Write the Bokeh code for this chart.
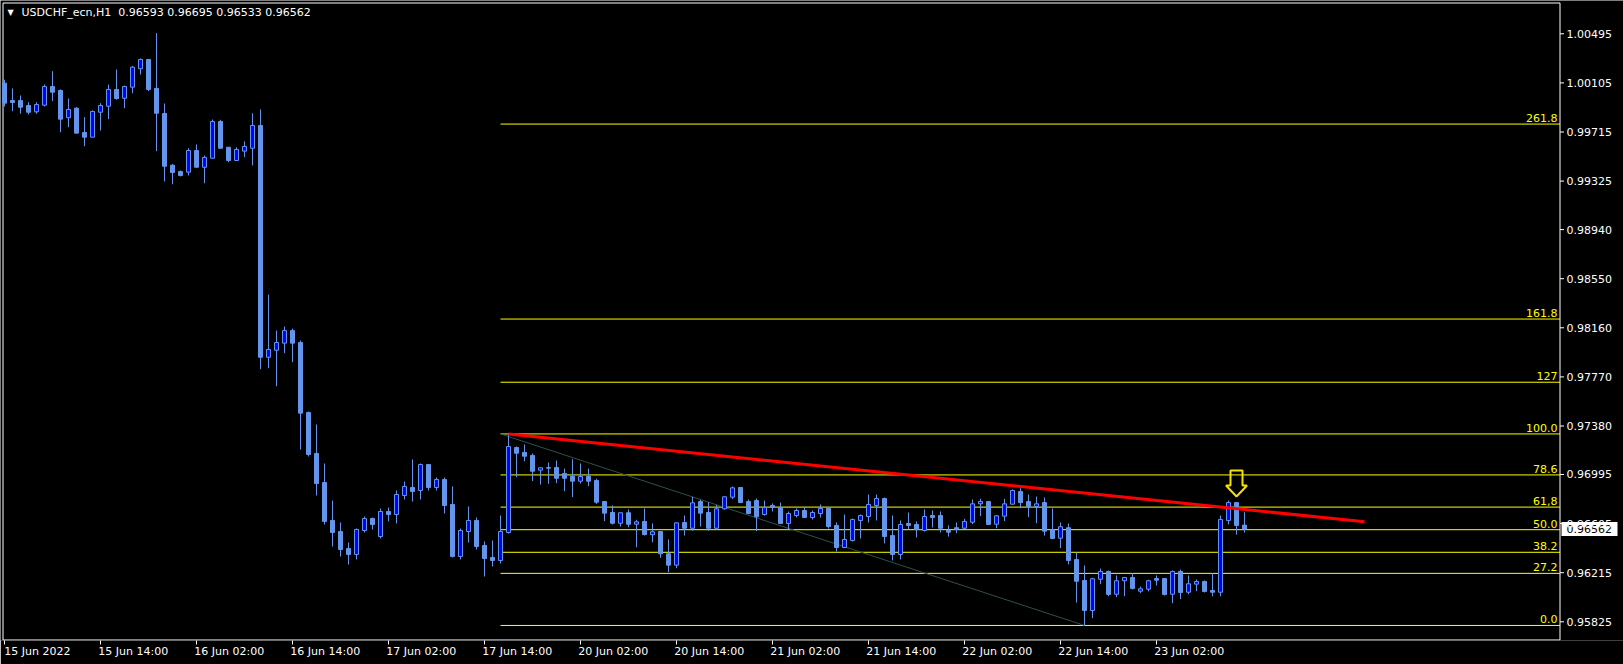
from bokeh.plotting import figure
from bokeh.models import Range1d, FixedTicker, Label, LabelSet, ColumnDataSource
from bokeh.core.properties import value
from bokeh.embed import file_html
from bokeh.resources import INLINE

symbol = "USDCHF_ecn,H1"

time_tick_bars = [0, 12, 24, 36, 48, 60, 72, 84, 96, 108, 120, 132, 144]
time_tick_labels = ["15 Jun 2022", "15 Jun 14:00", "16 Jun 02:00", "16 Jun 14:00",
                    "17 Jun 02:00", "17 Jun 14:00", "20 Jun 02:00", "20 Jun 14:00",
                    "21 Jun 02:00", "21 Jun 14:00", "22 Jun 02:00", "22 Jun 14:00",
                    "23 Jun 02:00"]

price_ticks = [1.00495, 1.00105, 0.99715, 0.99325, 0.98940, 0.98550, 0.98160,
               0.97770, 0.97380, 0.96995, 0.96605, 0.96215, 0.95825]

ohlc_points = [
    (100103, 100130, 99918, 99944), (99965, 100061, 99880, 99949), (99965, 100005, 99860, 99912),
    (99925, 99952, 99854, 99872), (99875, 99952, 99860, 99933), (99928, 100092, 99918, 100076),
    (100076, 100198, 99960, 100031), (100045, 100053, 99713, 99817), (99828, 99981, 99753, 99894),
    (99904, 99912, 99706, 99706), (99711, 99833, 99602, 99674), (99674, 99886, 99674, 99878),
    (99872, 99944, 99727, 99925), (99920, 100092, 99817, 100053), (100053, 100211, 99971, 99981),
    (99983, 100084, 99904, 100076), (100071, 100238, 100023, 100230), (100217, 100299, 100172, 100291),
    (100291, 100295, 100039, 100053), (100061, 100500, 99563, 99864), (99862, 99941, 99322, 99443),
    (99451, 99462, 99300, 99393), (99401, 99409, 99362, 99370), (99396, 99586, 99370, 99568),
    (99568, 99616, 99435, 99435), (99435, 99528, 99308, 99513), (99507, 99814, 99507, 99798),
    (99798, 99812, 99586, 99586), (99594, 99594, 99475, 99489), (99489, 99594, 99483, 99576),
    (99563, 99640, 99515, 99600), (99586, 99864, 99449, 99767), (99767, 99894, 97831, 97926),
    (97926, 98424, 97839, 97988), (97982, 98138, 97696, 98043), (98038, 98170, 97958, 98138),
    (98138, 98154, 97887, 98038), (98043, 98059, 97193, 97482), (97487, 97495, 97138, 97154),
    (97162, 97392, 96828, 96923), (96931, 97082, 96598, 96622), (96630, 96788, 96423, 96534),
    (96542, 96614, 96344, 96399), (96407, 96455, 96280, 96360), (96360, 96566, 96320, 96558),
    (96550, 96661, 96534, 96645), (96645, 96653, 96558, 96598), (96502, 96725, 96487, 96701),
    (96701, 96733, 96622, 96677), (96677, 96868, 96606, 96836), (96828, 96939, 96796, 96900),
    (96892, 97114, 96780, 96860), (96868, 97082, 96796, 97074), (97074, 97078, 96868, 96892),
    (96892, 96971, 96868, 96955), (96955, 96971, 96685, 96749), (96757, 96900, 96336, 96344),
    (96344, 96566, 96320, 96550), (96542, 96741, 96455, 96630), (96630, 96653, 96399, 96423),
    (96431, 96463, 96185, 96328), (96336, 96471, 96264, 96312), (96312, 96669, 96288, 96542),
    (96534, 97317, 96526, 97217), (97209, 97217, 96973, 97164), (97170, 97233, 97100, 97140),
    (97146, 97162, 96942, 97021), (97029, 97053, 96915, 97048), (97050, 97090, 96921, 97045),
    (97050, 97106, 96926, 96965), (97003, 97042, 96862, 96965), (96981, 97116, 96815, 96942),
    (96942, 97082, 96923, 96979), (96979, 97042, 96902, 96942), (96947, 96961, 96762, 96775),
    (96780, 96783, 96624, 96688), (96693, 96749, 96598, 96608), (96608, 96691, 96582, 96691),
    (96691, 96717, 96576, 96600), (96600, 96635, 96417, 96619), (96622, 96725, 96510, 96518),
    (96516, 96606, 96457, 96540), (96542, 96545, 96333, 96365), (96365, 96479, 96219, 96275),
    (96275, 96614, 96251, 96611), (96614, 96669, 96510, 96568), (96568, 96818, 96548, 96770),
    (96780, 96794, 96582, 96688), (96693, 96775, 96548, 96568), (96568, 96754, 96556, 96722),
    (96722, 96820, 96715, 96818), (96815, 96900, 96799, 96889), (96892, 96895, 96768, 96772),
    (96780, 96796, 96680, 96685), (96788, 96804, 96545, 96659), (96677, 96788, 96669, 96733),
    (96749, 96765, 96701, 96733), (96733, 96772, 96603, 96606), (96606, 96701, 96558, 96685),
    (96669, 96725, 96653, 96709), (96709, 96733, 96650, 96653), (96653, 96709, 96637, 96693),
    (96685, 96757, 96653, 96725), (96725, 96728, 96566, 96582), (96590, 96614, 96383, 96415),
    (96415, 96677, 96412, 96479), (96471, 96645, 96463, 96637), (96630, 96677, 96487, 96669),
    (96661, 96836, 96614, 96757), (96749, 96836, 96630, 96804), (96804, 96812, 96447, 96502),
    (96510, 96669, 96312, 96360), (96360, 96630, 96320, 96598), (96606, 96693, 96558, 96590),
    (96598, 96622, 96495, 96558), (96550, 96717, 96542, 96661), (96669, 96709, 96574, 96653),
    (96669, 96701, 96534, 96568), (96550, 96590, 96502, 96537), (96572, 96614, 96529, 96560),
    (96568, 96643, 96565, 96622), (96616, 96796, 96600, 96762), (96762, 96802, 96664, 96780),
    (96780, 96783, 96595, 96598), (96600, 96670, 96568, 96667), (96664, 96802, 96624, 96762),
    (96759, 96876, 96756, 96868), (96860, 96886, 96727, 96772), (96780, 96836, 96656, 96741),
    (96741, 96820, 96608, 96762), (96772, 96812, 96510, 96545), (96556, 96725, 96481, 96487),
    (96489, 96614, 96410, 96580), (96572, 96606, 96280, 96312), (96320, 96375, 95978, 96147),
    (96153, 96272, 95796, 95915), (95915, 96174, 95854, 96167), (96163, 96248, 96124, 96225),
    (96225, 96232, 96028, 96042), (96044, 96193, 96020, 96151), (96151, 96180, 96028, 96177),
    (96177, 96211, 96082, 96090), (96068, 96105, 96052, 96087), (96084, 96159, 96066, 96151),
    (96169, 96193, 96113, 96155), (96169, 96172, 96034, 96042), (96044, 96232, 95973, 96225),
    (96225, 96240, 96005, 96058), (96060, 96193, 96044, 96127), (96124, 96161, 96068, 96145),
    (96145, 96153, 96058, 96066), (96074, 96211, 96028, 96060), (96060, 96669, 96028, 96637),
    (96630, 96788, 96598, 96772), (96772, 96775, 96518, 96590), (96593, 96695, 96533, 96562),
]
opens = [o / 100000 for o, h, l, c in ohlc_points]
highs = [h / 100000 for o, h, l, c in ohlc_points]
lows = [l / 100000 for o, h, l, c in ohlc_points]
closes = [c / 100000 for o, h, l, c in ohlc_points]

fib_start_bar = 62
fib_end_bar = 135
fib_price_100 = 0.97317
fib_price_0 = 0.95796
fib_ratios = [0.0, 0.272, 0.382, 0.5, 0.618, 0.786, 1.0, 1.27, 1.6, 2.618]
fib_labels = ["0.0", "27.2", "38.2", "50.0", "61,8", "78.6", "100.0", "127", "161.8", "261.8"]

trend_bars = [63, 170]
trend_prices = [0.97317, 0.96619]

arrow_bar = 154
arrow_tip_price = 0.96820

FONT = "DejaVu Sans"
WICK = "#6495ED"

# chart-window layout (bar units horizontally, price units vertically)
X_START, X_END = -0.5, 202.375          # whole canvas width
Y_BOTTOM, Y_TOP = 0.956765, 1.007594    # frame height (above the time axis)
BOX_LEFT, BOX_RIGHT = -0.1875, 194.4375  # chart border
BOX_BOTTOM, BOX_TOP = 0.956805, 1.007395
TICK_END = 194.9375
PX_BAR = 1 / 8.0                        # bars per pixel
PX_PRICE = 0.00007942                   # price per pixel
LABEL_SHIFT = 4.1                       # time label centre right of its tick (bars)

p = figure(width=1623, height=664, output_backend="svg", toolbar_location=None,
           x_range=Range1d(X_START, X_END), y_range=Range1d(Y_BOTTOM, Y_TOP),
           y_axis_location=None, min_border_left=0, min_border_top=0,
           min_border_right=0, min_border_bottom=24,
           background_fill_color="black", border_fill_color="black",
           outline_line_color=None)
p.xgrid.visible = False
p.ygrid.visible = False

# time axis
xa = p.xaxis[0]
label_pos = [b + LABEL_SHIFT for b in time_tick_bars]
xa.ticker = FixedTicker(ticks=label_pos, minor_ticks=time_tick_bars)
xa.major_label_overrides = {lp: t for lp, t in zip(label_pos, time_tick_labels)}
xa.axis_line_color = None
xa.major_tick_line_color = None
xa.major_tick_out = 0
xa.major_tick_in = 0
xa.minor_tick_line_color = "white"
xa.minor_tick_out = 4
xa.minor_tick_in = 0
xa.major_label_standoff = 0
xa.major_label_text_color = "white"
xa.major_label_text_font = FONT
xa.major_label_text_font_size = "11px"

# chart border
p.line([BOX_LEFT, BOX_LEFT, BOX_RIGHT, BOX_RIGHT, BOX_LEFT],
       [BOX_BOTTOM, BOX_TOP, BOX_TOP, BOX_BOTTOM, BOX_BOTTOM],
       line_color="white", line_width=1)

# price axis
p.segment(x0=[BOX_RIGHT] * len(price_ticks), y0=price_ticks,
          x1=[TICK_END] * len(price_ticks), y1=price_ticks,
          line_color="white", line_width=1)
price_src = ColumnDataSource(dict(y=price_ticks, text=["%.5f" % v for v in price_ticks]))
p.add_layout(LabelSet(x=1566, y="y", text="text", source=price_src,
                      x_units="screen", y_units="data",
                      text_align="left", text_baseline="middle",
                      text_color="white", text_font=value(FONT), text_font_size="11px"))

# fibonacci levels
fib_range = fib_price_100 - fib_price_0
fib_prices = [fib_price_0 + r * fib_range for r in fib_ratios]
p.segment(x0=[fib_start_bar] * len(fib_prices), y0=fib_prices,
          x1=[BOX_RIGHT] * len(fib_prices), y1=fib_prices,
          line_color="#FFFF00", line_width=1)
p.line([fib_start_bar, fib_end_bar], [fib_price_100, fib_price_0],
       line_color="#2F4F4F", line_width=1)
fib_src = ColumnDataSource(dict(y=fib_prices, text=fib_labels))
p.add_layout(LabelSet(x=1557, y="y", text="text", source=fib_src,
                      x_units="screen", y_units="data",
                      text_align="right", text_baseline="alphabetic", y_offset=2,
                      text_color="#FFFF00", text_font=value(FONT), text_font_size="11px"))

# candles
idx = list(range(len(opens)))
p.segment(x0=idx, y0=lows, x1=idx, y1=highs, line_color=WICK, line_width=1)
bull = [i for i in idx if closes[i] >= opens[i]]
bear = [i for i in idx if closes[i] < opens[i]]
p.vbar(x=bull, width=0.5, bottom=[opens[i] for i in bull], top=[closes[i] for i in bull],
       fill_color="#0000FF", line_color=WICK, line_width=1)
p.vbar(x=bear, width=0.5, bottom=[closes[i] for i in bear], top=[opens[i] for i in bear],
       fill_color=WICK, line_color=WICK, line_width=1)

# trendline
p.line(trend_bars, trend_prices, line_color="#FF0000", line_width=3)

# hollow down-arrow marker (shape in pixels relative to its tip)
arrow_px = [(-6, 26), (6, 26), (6, 11), (10.5, 11), (0, 0), (-10.5, 11), (-6, 11)]
p.patch([arrow_bar + dx * PX_BAR for dx, dy in arrow_px],
        [arrow_tip_price + dy * PX_PRICE for dx, dy in arrow_px],
        fill_color=None, line_color="#F5E000", line_width=2)

# current price box
last = closes[-1]
p.quad(left=[BOX_RIGHT + 0.1875], right=[BOX_RIGHT + 7.1875],
       bottom=[last - 7 * PX_PRICE], top=[last + 7 * PX_PRICE],
       fill_color="white", line_color=None)
p.text(x=[195.25], y=[last], text=["%.5f" % last], text_align="left",
       text_baseline="middle", text_color="black", text_font=value(FONT),
       text_font_size="11px")

# header
p.add_layout(Label(x=10, y=628, x_units="screen", y_units="screen", text="\u25bc",
                   text_color="white", text_font=FONT, text_font_size="8px",
                   text_align="center", text_baseline="middle"))
header = "%s\u00a0\u00a0%.5f %.5f %.5f %.5f" % (symbol, opens[-1], highs[-1], lows[-1], closes[-1])
p.add_layout(Label(x=21, y=628, x_units="screen", y_units="screen", text=header,
                   text_color="white", text_font=FONT, text_font_size="11px",
                   text_align="left", text_baseline="middle"))

open("out.html", "w").write(file_html(p, INLINE))
